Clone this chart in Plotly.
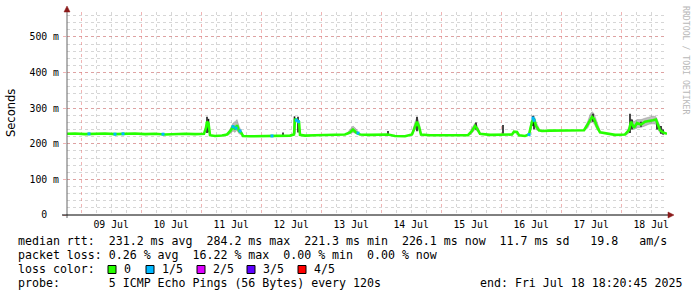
import datetime as dt
import plotly.graph_objects as go

# ---------------- data ----------------
START = dt.datetime(2025, 7, 8, 18, 20, 45)
END = dt.datetime(2025, 7, 18, 18, 20, 45)

# median rtt (hours since START, milliseconds)
med_hours = [0, 3.2, 7.2, 11.2, 15.2, 19.2, 23.2, 27.2, 31.2, 35.2, 39.2, 43.2, 47.2, 51.2, 54.8,
             55.6, 56.0, 56.6, 57.2, 59.2, 62.0, 64.0, 65.6, 66.4, 67.2, 68.0, 68.8, 69.6, 70.4,
             73.2, 77.2, 81.2, 85.2, 89.2, 90.8, 91.2, 92.0, 92.8, 93.2, 95.2, 99.2, 103.2, 107.2,
             111.2, 113.2, 114.4, 115.6, 117.2, 121.2, 125.2, 128.4, 131.2, 135.2, 138.0, 139.2,
             140.0, 140.8, 141.6, 145.2, 149.2, 153.2, 157.2, 160.4, 162.0, 163.2, 164.0, 165.2,
             169.2, 173.2, 175.6, 178.0, 178.8, 180.0, 180.8, 183.2, 184.8, 186.0, 186.8, 187.6,
             188.8, 190.0, 193.2, 197.2, 201.2, 205.2, 206.8, 208.4, 210.0, 210.8, 212.0, 213.2,
             215.2, 219.2, 223.2, 224.8, 225.6, 226.8, 228.0, 229.6, 231.2, 232.8, 234.4, 235.6,
             236.4, 237.2, 238.4, 240.0]
med_ms = [228, 229, 227, 228, 229, 227, 228, 229, 227, 228, 226, 228, 228, 227, 228,
          245, 262, 258, 224, 222, 223, 226, 238, 250, 240, 252, 236, 232, 222,
          221, 221, 222, 223, 223, 226, 270, 266, 262, 225, 223, 224, 224, 225,
          226, 232, 240, 232, 226, 225, 225, 226, 222, 221, 226, 250,
          262, 248, 226, 224, 224, 224, 223, 224, 236, 250, 243, 228,
          225, 225, 225, 226, 234, 233, 224, 222, 226, 262, 270, 250,
          238, 236, 237, 237, 238, 238, 238, 256, 275, 270, 248, 232,
          229, 225, 226, 238, 262, 245, 258, 254, 262, 265, 266, 268,
          250, 238, 232, 228]

# smoke bands (range of the 5 pings) around the busier periods
smoke_bands = [
    ([64.4, 65.6, 66.4, 67.2, 68.0, 68.8, 69.6, 70.4],
     [224, 230, 236, 232, 238, 228, 226, 221],
     [230, 245, 258, 262, 268, 250, 240, 226]),
    ([112.0, 113.2, 114.4, 115.6, 116.8],
     [226, 228, 232, 228, 225],
     [230, 240, 250, 242, 230]),
    ([138.0, 139.2, 140.0, 140.8, 141.6],
     [224, 240, 250, 238, 224],
     [230, 262, 275, 262, 232]),
    ([161.2, 162.0, 163.2, 164.0, 165.2],
     [224, 230, 240, 236, 225],
     [230, 245, 258, 252, 232]),
    ([184.8, 186.0, 186.8, 187.6, 188.8],
     [224, 250, 258, 240, 235],
     [230, 272, 280, 262, 244]),
    ([206.8, 208.4, 209.2, 210.0, 210.8, 212.0, 213.2],
     [236, 245, 258, 262, 256, 240, 230],
     [241, 265, 282, 290, 285, 262, 238]),
    ([223.6, 224.8, 225.6, 226.8, 228.0, 229.6, 231.2, 232.8, 234.4, 235.6, 236.4, 237.2, 238.4, 238.8],
     [224, 230, 245, 240, 245, 246, 250, 255, 256, 255, 240, 230, 226, 225],
     [230, 248, 270, 262, 268, 268, 272, 275, 278, 276, 265, 250, 240, 234]),
]

# dark (dense) smoke spikes: hour, low ms, high ms
spike_hours = [56.0, 56.6, 86.4, 91.0, 92.4, 128.4, 140.0, 163.6, 174.4, 186.4, 186.8,
               210.4, 225.2, 226.0, 229.6, 236.0, 237.6, 238.4]
spike_lo = [230, 232, 222, 228, 232, 224, 235, 240, 228, 250, 240, 262, 230, 240, 248, 240, 228, 226]
spike_hi = [276, 270, 232, 277, 276, 236, 276, 260, 253, 279, 272, 284, 284, 268, 262, 262, 250, 240]

# points where 1/5 packets were lost
loss1_hours = [8.8, 19.2, 22.4, 38.4, 66.4, 67.6, 69.2, 82.0, 91.8, 92.6, 116.4, 184.8, 186.4, 186.8]
loss1_ms = [228, 227, 228, 227, 248, 244, 236, 222, 266, 262, 230, 226, 272, 266]

y_tickvals = [0, 0.1, 0.2, 0.3, 0.4, 0.5]
y_ticktext = ["0\u00a0\u00a0", "100 m", "200 m", "300 m", "400 m", "500 m"]

loss_labels = ["0", "1/5", "2/5", "3/5", "4/5"]
loss_colors = ["#26ff00", "#00b8ff", "#dd00ff", "#5e00ff", "#ff0000"]

legend_lines = [
    "median rtt:  231.2 ms avg  284.2 ms max  221.3 ms min  226.1 ms now  11.7 ms sd   19.8   am/s",
    "packet loss: 0.26 % avg  16.22 % max  0.00 % min  0.00 % now",
]
probe_text = "probe:       5 ICMP Echo Pings (56 Bytes) every 120s"
end_text = "end: Fri Jul 18 18:20:45 2025"

# ---------------- helpers ----------------
def T(h):
    return START + dt.timedelta(hours=h)

def s(v):  # ms -> seconds
    return v / 1000.0

L, R, TOP, BOT = 67, 667, 12, 215
def px(x):
    return (x - L) / (R - L)
def py(y):
    return (BOT - y) / (BOT - TOP)

MONO = "DejaVu Sans Mono"

fig = go.Figure()

# smoke
for hrs, lo, hi in smoke_bands:
    xs = [T(h) for h in hrs] + [T(h) for h in reversed(hrs)]
    ys = [s(v) for v in hi] + [s(v) for v in reversed(lo)]
    fig.add_trace(go.Scatter(x=xs, y=ys, fill="toself", mode="lines",
                             line=dict(width=0.5, color="rgba(120,120,120,0.7)"),
                             fillcolor="rgba(145,145,145,0.6)", hoverinfo="skip"))

# dark spikes
sx, sy = [], []
for h, lo, hi in zip(spike_hours, spike_lo, spike_hi):
    sx += [T(h), T(h), None]
    sy += [s(lo), s(hi), None]
fig.add_trace(go.Scatter(x=sx, y=sy, mode="lines", line=dict(color="#1a1a1a", width=1.6),
                         hoverinfo="skip"))

# median
fig.add_trace(go.Scatter(x=[T(h) for h in med_hours], y=[s(v) for v in med_ms], mode="lines",
                         line=dict(color=loss_colors[0], width=2.6), hoverinfo="skip"))

# loss points
fig.add_trace(go.Scatter(x=[T(h) for h in loss1_hours], y=[s(v) for v in loss1_ms], mode="markers",
                         marker=dict(symbol="square", size=3, color=loss_colors[1], line=dict(width=0)),
                         hoverinfo="skip"))

major_grid = "rgba(230,120,120,0.55)"
minor_grid = "rgba(165,165,165,0.45)"

fig.update_layout(
    width=697, height=297,
    margin=dict(l=L, r=697 - R, t=TOP, b=297 - BOT),
    paper_bgcolor="white", plot_bgcolor="white",
    showlegend=False,
    xaxis=dict(type="date", range=[START, END], tick0="2025-07-09", dtick=86400000,
               ticklabelmode="period", tickformat="%d %b",
               showgrid=True, gridcolor=major_grid, griddash="dot", gridwidth=1,
               minor=dict(dtick=6 * 3600000, tick0="2025-07-09", showgrid=True,
                          gridcolor=minor_grid, griddash="dot", gridwidth=1),
               showline=False, zeroline=False, ticks="", ticklabelstandoff=2,
               tickfont=dict(family=MONO, size=9.8, color="#000")),
    yaxis=dict(range=[0, 0.57], tickmode="array", tickvals=y_tickvals, ticktext=y_ticktext,
               showgrid=True, gridcolor=major_grid, griddash="dot", gridwidth=1,
               minor=dict(tick0=0, dtick=0.02, showgrid=True, gridcolor=minor_grid,
                          griddash="dot", gridwidth=1),
               showline=False, zeroline=False, ticks="outside", ticklen=3,
               tickcolor=major_grid, ticklabelstandoff=2,
               tickfont=dict(family=MONO, size=9.8, color="#000")),
)

shapes = []
# axis lines
shapes.append(dict(type="line", xref="paper", yref="paper", x0=px(67), x1=px(67), y0=py(218), y1=py(10),
                   line=dict(color="#666", width=1)))
shapes.append(dict(type="line", xref="paper", yref="paper", x0=px(62), x1=px(670), y0=py(215), y1=py(215),
                   line=dict(color="#000", width=1)))
# arrows
shapes.append(dict(type="path", xref="paper", yref="paper",
                   path=f"M {px(67)} {py(6)} L {px(64)} {py(12)} L {px(70)} {py(12)} Z",
                   fillcolor="#8b1a1a", line=dict(color="#8b1a1a", width=0.5)))
shapes.append(dict(type="path", xref="paper", yref="paper",
                   path=f"M {px(674)} {py(215)} L {px(668)} {py(212)} L {px(668)} {py(218)} Z",
                   fillcolor="#8b1a1a", line=dict(color="#8b1a1a", width=0.5)))
# loss colour boxes
box_x = [108, 146, 197, 247, 298]
for bx, col in zip(box_x, loss_colors):
    shapes.append(dict(type="rect", xref="paper", yref="paper", x0=px(bx), x1=px(bx + 8),
                       y0=py(273.5), y1=py(265.5), fillcolor=col, line=dict(color="#000", width=1)))
fig.update_layout(shapes=shapes)

ann = []
def text(x, y, t, size=11.6, family=MONO, color="#000", xanchor="left", angle=0):
    ann.append(dict(x=px(x), y=py(y), xref="paper", yref="paper", text=t.replace(" ", "\u00a0"),
                    showarrow=False, xanchor=xanchor, yanchor="middle", textangle=angle,
                    font=dict(family=family, size=size, color=color)))

text(16, 241, legend_lines[0])
text(16, 255, legend_lines[1])
text(16, 269, "loss color:")
for bx, lab in zip(box_x, loss_labels):
    text(bx + 14, 269, lab)
text(16, 283, probe_text)
text(478, 283, end_text)
# axis title
ann.append(dict(x=px(11), y=py(113), xref="paper", yref="paper", text="Seconds", showarrow=False,
                xanchor="center", yanchor="middle", textangle=-90,
                font=dict(family="DejaVu Sans", size=11.5, color="#000")))
# watermark
ann.append(dict(x=px(686), y=py(60), xref="paper", yref="paper", text="RRDTOOL / TOBI OETIKER",
                showarrow=False, xanchor="center", yanchor="middle", textangle=90,
                font=dict(family=MONO, size=8.2, color="#b8b8b8")))
fig.update_layout(annotations=ann)

fig.write_html("out.html")
